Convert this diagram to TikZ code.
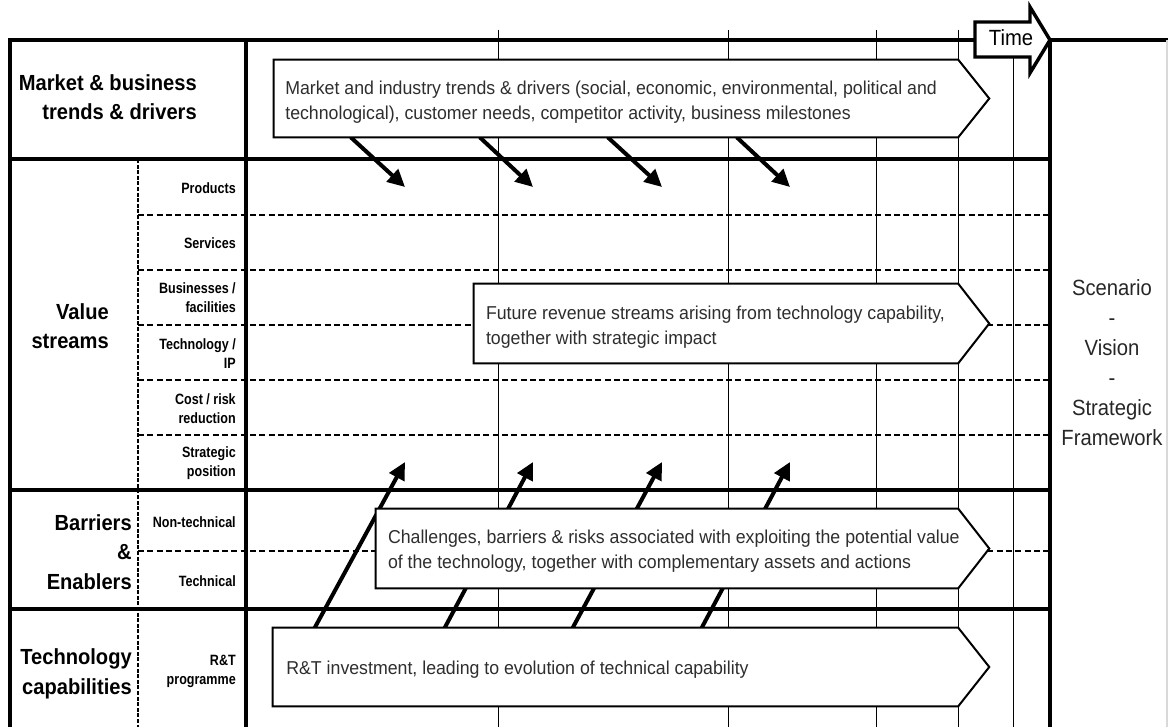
\documentclass[tikz,border=0pt]{standalone}
\usepackage{fontspec}
\setmainfont{Liberation Sans}
\newfontfamily\boxfont{Liberation Sans}[FakeStretch=0.95]
\newfontfamily\headfont{Liberation Sans}[FakeStretch=0.92]
\newfontfamily\rowfont{Liberation Sans}[FakeStretch=0.84]
\usetikzlibrary{arrows.meta,fit}
\pgfdeclarelayer{grid}
\pgfdeclarelayer{arrows}
\pgfdeclarelayer{boxes}
\pgfsetlayers{grid,arrows,boxes,main}

\tikzset{
  thickrule/.style={line width=2.3pt, line join=miter},
  thinrule/.style={line width=0.65pt},
  rowrule/.style={line width=1.1pt, dash pattern=on 4.5pt off 2.5pt},
  colrule/.style={line width=1.3pt, dash pattern=on 3pt off 1.2pt},
  boxarea/.style={inner sep=0pt, draw=none},
  boxpoly/.style={draw, fill=white, line width=1.5pt, line join=miter},
  boxtext/.style={font=\boxfont\fontsize{14}{18.9}\selectfont, text=black!82,
    align=left, inner sep=0pt, anchor=west},
  headlabel/.style={font=\headfont\bfseries\fontsize{16.4}{22}\selectfont,
    align=right, inner sep=0pt, anchor=east},
  rowlabel/.style={font=\rowfont\bfseries\fontsize{11.2}{14.25}\selectfont,
    align=right, inner sep=0pt, anchor=east},
  sidetext/.style={font=\headfont\fontsize{16.5}{22.4}\selectfont, text=black!85,
    align=center, inner sep=0pt},
  bigarrow/.style={line width=3pt, -{Triangle[length=13pt,width=12.5pt]}},
}

\begin{document}
\begin{tikzpicture}[x=0.75pt,y=-0.75pt]
\useasboundingbox (0,0) rectangle (1168,727);

% ---------- grid ----------
\begin{pgfonlayer}{grid}
  % time period columns
  \foreach \cx in {498,728,876,958,1013}
    \draw[thinrule] (\cx,30) -- (\cx,727);
  % sub-layer dividers
  \foreach \ry in {215,270,325,380,435,551}
    \draw[rowrule] (138,\ry) -- (1050,\ry);
  \draw[colrule] (138,159) -- (138,727);
  % main layer frame
  \draw[thickrule] (10,727) -- (10,40) -- (1168,40);
  \draw[thickrule] (246,40) -- (246,727);
  \draw[thickrule] (1050,40) -- (1050,727);
  \foreach \ry in {159,490,609}
    \draw[thickrule] (10,\ry) -- (1050,\ry);
  \draw[gray!30, line width=0.8pt] (1167,40) -- (1167,727);
\end{pgfonlayer}

% ---------- layer labels ----------
\node[headlabel] (lmarket) at (197,97.5) {Market \& business\\trends \& drivers};
\node[headlabel] (lvalue) at (109,326.5) {Value\\streams};
\node[headlabel] (lbarr) at (132,552) {Barriers\\\&\\Enablers};
\node[headlabel] (ltech) at (132,674) {Technology\\capabilities};

\node[rowlabel] (rprod) at (236,188) {Products};
\node[rowlabel] (rserv) at (236,243) {Services};
\node[rowlabel] (rbus) at (236,297.5) {Businesses /\\facilities};
\node[rowlabel] (rip) at (236,353.5) {Technology /\\IP};
\node[rowlabel] (rcost) at (236,408.5) {Cost / risk\\reduction};
\node[rowlabel] (rstrat) at (236,463.5) {Strategic\\position};
\node[rowlabel] (rnon) at (236,522) {Non-technical};
\node[rowlabel] (rtec) at (236,581) {Technical};
\node[rowlabel] (rrt) at (236,671) {R\&T\\programme};

\node[sidetext] (vision) at (1112,362.5) {Scenario\\-\\Vision\\-\\Strategic\\Framework};

% ---------- roadmap boxes ----------
\node[boxarea, fit={(274,60)(958,137)}] (mk) {};
\node[boxarea, fit={(474,284)(958,363)}] (rev) {};
\node[boxarea, fit={(376,509)(958,588)}] (bar) {};
\node[boxarea, fit={(273,628)(958,706)}] (rt) {};

\node[boxtext] (mkT) at ([xshift=8.5pt,yshift=-2.6pt]mk.west)
  {Market and industry trends \& drivers (social, economic, environmental, political and\\technological), customer needs, competitor activity, business milestones};
\node[boxtext] (revT) at ([xshift=9pt,yshift=-2.6pt]rev.west)
  {Future revenue streams arising from technology capability,\\together with strategic impact};
\node[boxtext] (barT) at ([xshift=9pt,yshift=-2.3pt]bar.west)
  {Challenges, barriers \& risks associated with exploiting the potential value\\of the technology, together with complementary assets and actions};
\node[boxtext] (rtT) at ([xshift=10pt,yshift=-2.3pt]rt.west)
  {R\&T investment, leading to evolution of technical capability};

\begin{pgfonlayer}{boxes}
  \foreach \b in {mk,rev,bar,rt}
    \draw[boxpoly] (\b.north west) -- (\b.north east) -- ([xshift=23.25pt]\b.east)
      -- (\b.south east) -- (\b.south west) -- cycle;
  % time arrow
  \draw[line width=2.6pt, fill=white, line join=miter]
    (975,22) -- (1030,22) -- (1030,7) -- (1050,40) -- (1030,73) -- (1030,57) -- (975,57) -- cycle;
\end{pgfonlayer}
\node[font=\headfont\fontsize{16.5}{20}\selectfont, inner sep=0pt] (time) at (1011,38) {Time};

% ---------- influence arrows ----------
\coordinate (d1) at (405,187);
\coordinate (d2) at (533,187);
\coordinate (d3) at (662,187);
\coordinate (d4) at (790,187);
\coordinate (u1) at (405,462);
\coordinate (u2) at (533,462);
\coordinate (u3) at (662,462);
\coordinate (u4) at (790,462);
\begin{pgfonlayer}{arrows}
  \draw[bigarrow] (mk.south west) ++(77,0) -- (d1);
  \draw[bigarrow] (mk.south west) ++(206,0) -- (d2);
  \draw[bigarrow] (mk.south west) ++(334,0) -- (d3);
  \draw[bigarrow] (mk.south west) ++(463,0) -- (d4);
  \draw[bigarrow] (rt.north west) ++(42,0) -- (u1);
  \draw[bigarrow] (rt.north west) ++(172,0) -- (u2);
  \draw[bigarrow] (rt.north west) ++(300,0) -- (u3);
  \draw[bigarrow] (rt.north west) ++(429,0) -- (u4);
\end{pgfonlayer}
\end{tikzpicture}
\end{document}
